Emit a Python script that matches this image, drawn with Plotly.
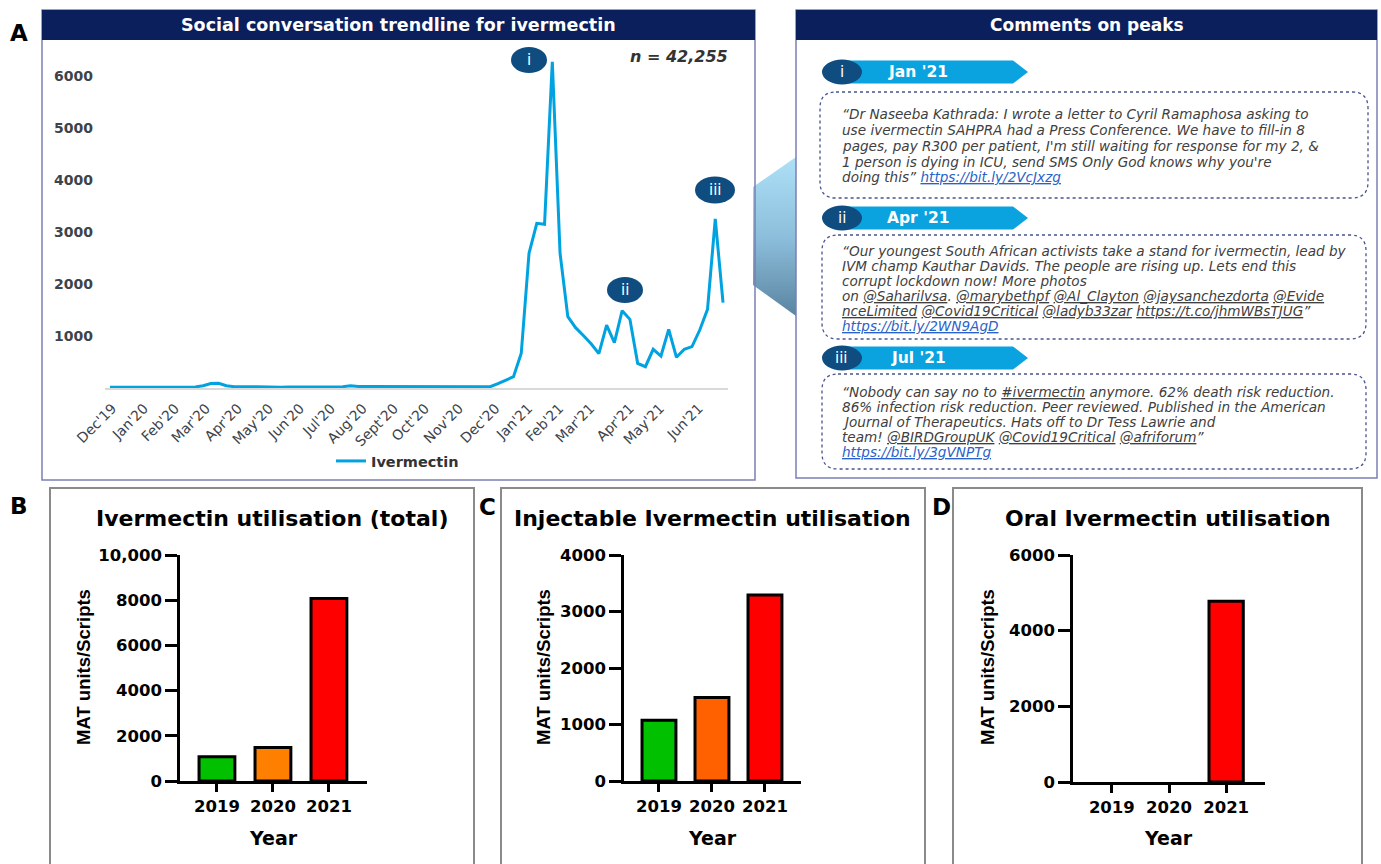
import plotly.graph_objects as go

W, H = 1381, 864

# ---------------- data ----------------
weekly_mentions = [
    15, 15, 15, 15, 15, 15, 15, 15, 15, 15, 15, 20,
    45, 85, 90, 45, 25, 20, 25, 25, 20, 15, 15, 20,
    20, 25, 25, 20, 20, 25, 25, 45, 30, 30, 30, 30,
    30, 25, 20, 20, 20, 20, 20, 20, 20, 20, 25, 20,
    20, 25, 85, 150, 217, 667, 2590, 3167, 3147, 6275,
    2590, 1372, 1160, 1010, 850, 660, 1211, 871, 1487, 1321,
    474, 410, 744, 615, 1128, 590, 744, 795, 1115, 1513, 3250, 1641,
]
week_index = list(range(len(weekly_mentions)))
month_labels = ["Dec'19", "Jan'20", "Feb'20", "Mar'20", "Apr'20", "May'20", "Jun'20",
                "Jul'20", "Aug'20", "Sept'20", "Oct'20", "Nov'20", "Dec'20", "Jan'21",
                "Feb'21", "Mar'21", "Apr'21", "May'21", "Jun'21"]
month_tick_week = [0.3, 4.4, 8.4, 12.4, 16.5, 20.5, 24.5, 28.5, 32.6, 36.6, 40.6,
                   45.0, 49.7, 53.9, 57.9, 61.9, 67.0, 70.9, 75.9]
line_yticks = [1000, 2000, 3000, 4000, 5000, 6000]
total_mentions_label = "n = 42,255"

years = ["2019", "2020", "2021"]
total_util = [1075, 1480, 8070]
injectable_util = [1075, 1480, 3290]
oral_util = [0, 0, 4780]

peak_labels = ["i", "ii", "iii"]
peak_months = ["Jan '21", "Apr '21", "Jul '21"]

LINK = '<span style="color:#2a62c9"><u>{}</u></span>'
U = '<u>{}</u>'
comment_i = [
    "“Dr Naseeba Kathrada: I wrote a letter to Cyril Ramaphosa asking to",
    "use ivermectin SAHPRA had a Press Conference. We have to fill-in 8",
    "pages, pay R300 per patient, I'm still waiting for response for my 2, &amp;",
    "1 person is dying in ICU, send SMS Only God knows why you're",
    "doing this” " + LINK.format("https://bit.ly/2VcJxzg"),
]
comment_ii = [
    "“Our youngest South African activists take a stand for ivermectin, lead by",
    "IVM champ Kauthar Davids. The people are rising up. Lets end this",
    "corrupt lockdown now! More photos",
    "on " + U.format("@Saharilvsa") + ". " + U.format("@marybethpf") + " " + U.format("@Al_Clayton")
    + " " + U.format("@jaysanchezdorta") + " " + U.format("@Evide"),
    U.format("nceLimited") + " " + U.format("@Covid19Critical") + " " + U.format("@ladyb33zar")
    + " " + U.format("https://t.co/jhmWBsTJUG") + "”",
    LINK.format("https://bit.ly/2WN9AgD"),
]
comment_iii = [
    "“Nobody can say no to " + U.format("#ivermectin") + " anymore. 62% death risk reduction.",
    "86% infection risk reduction. Peer reviewed. Published in the American",
    "Journal of Therapeutics. Hats off to Dr Tess Lawrie and",
    "team! " + U.format("@BIRDGroupUK") + " " + U.format("@Covid19Critical") + " " + U.format("@afriforum") + "”",
    LINK.format("https://bit.ly/3gVNPTg"),
]
comments = [comment_i, comment_ii, comment_iii]

# ---------------- helpers (pixel -> paper) ----------------
def X(px):
    return px / W


def Y(py):
    return 1 - py / H


NAVY = "#0b1f5c"
FRAME = "#7b80b3"
DEEP = "#0f4c80"
ARROW = "#0aa3e0"
LINE_BLUE = "#00a3e0"
TXT = "#3d434a"
DJ = "DejaVu Sans"
LIB = "Liberation Sans"

shapes = []
annotations = []


def rect(x0, y0, x1, y1, fill=None, line=None, lw=1.5):
    shapes.append(dict(type="rect", xref="paper", yref="paper", x0=X(x0), x1=X(x1), y0=Y(y1), y1=Y(y0),
                       fillcolor=fill if fill else "rgba(0,0,0,0)",
                       line=dict(color=line if line else "rgba(0,0,0,0)", width=lw if line else 0)))


def ellipse(cx, cy, w, h, fill):
    shapes.append(dict(type="circle", xref="paper", yref="paper", x0=X(cx - w / 2), x1=X(cx + w / 2),
                       y0=Y(cy + h / 2), y1=Y(cy - h / 2), fillcolor=fill, line=dict(width=0)))


def pt(x, y):
    return f"{X(x):.6f},{Y(y):.6f}"


def rounded_rect(x0, y0, x1, y1, r, color, lw=1.3):
    p = (f"M {pt(x0 + r, y0)} L {pt(x1 - r, y0)} Q {pt(x1, y0)} {pt(x1, y0 + r)} "
         f"L {pt(x1, y1 - r)} Q {pt(x1, y1)} {pt(x1 - r, y1)} L {pt(x0 + r, y1)} "
         f"Q {pt(x0, y1)} {pt(x0, y1 - r)} L {pt(x0, y0 + r)} Q {pt(x0, y0)} {pt(x0 + r, y0)} Z")
    shapes.append(dict(type="path", xref="paper", yref="paper", path=p,
                       line=dict(color=color, width=lw, dash="dot"), fillcolor="rgba(0,0,0,0)"))


def banner(cy, x0=843, shoulder=1013, tip=1028, half=11.5):
    p = (f"M {pt(x0, cy - half)} L {pt(shoulder, cy - half)} L {pt(tip, cy)} "
         f"L {pt(shoulder, cy + half)} L {pt(x0, cy + half)} Z")
    shapes.append(dict(type="path", xref="paper", yref="paper", path=p,
                       fillcolor=ARROW, line=dict(width=0)))


def ann(text, x, y, size, color="black", family=DJ, xanchor="center", yanchor="middle",
        angle=0, weight="normal", style="normal"):
    annotations.append(dict(text=text, x=X(x), y=Y(y), xref="paper", yref="paper",
                            xanchor=xanchor, yanchor=yanchor, showarrow=False, textangle=angle,
                            font=dict(family=family, size=size, color=color, weight=weight, style=style)))


# ---------------- panel A frame ----------------
rect(42, 10, 755, 480, line=FRAME)
rect(42, 10, 755, 40, fill=NAVY)
ann("Social conversation trendline for ivermectin", 398, 25, 17.5, "white", weight="bold")
ann("A", 19, 33, 23, "black", weight="bold")
ann(total_mentions_label, 679, 57, 16, "#333333", weight="bold", style="italic")

peak_circles = [(529, 60, 36, 26), (625, 290, 36, 26), (715, 190, 40, 27)]
for (cx, cy, w, h), lab in zip(peak_circles, peak_labels):
    ellipse(cx, cy, w, h, DEEP)
    ann(lab, cx, cy, 15, "white")

# ---------------- comments panel ----------------
rect(796, 10, 1377, 478, line=FRAME)
rect(796, 10, 1377, 40, fill=NAVY)
ann("Comments on peaks", 1087, 25, 17, "white", weight="bold")

banner_y = [72, 218, 358]
bubble_box = [(820, 92, 1368, 198), (822, 235, 1366, 339), (822, 374, 1366, 469)]
line_y = [[114, 130, 146, 162, 177],
          [251, 266, 281, 296, 311, 326],
          [392, 407, 422, 437, 452]]
for k in range(3):
    cy = banner_y[k]
    banner(cy)
    ellipse(842, cy, 40, 25, DEEP)
    ann(peak_labels[k], 842, cy, 15, "white")
    ann(peak_months[k], 918, cy, 15.5, "white", weight="bold")
    bx0, by0, bx1, by1 = bubble_box[k]
    rounded_rect(bx0, by0, bx1, by1, 16, "#46558f")
    for txt, ly in zip(comments[k], line_y[k]):
        ann(txt, 840, ly, 13.6, "#404040", xanchor="left", style="italic")

# ---------------- bottom panels frames/text ----------------
bottom = [
    dict(frame=(50, 474), label=("B", 19, 506), title="Ivermectin utilisation (total)", tx=272,
         ytitle_x=83, year_x=273),
    dict(frame=(501, 925), label=("C", 487, 507), title="Injectable Ivermectin utilisation", tx=712,
         ytitle_x=543, year_x=712),
    dict(frame=(953, 1362), label=("D", 941, 507), title="Oral Ivermectin utilisation", tx=1168,
         ytitle_x=987, year_x=1168),
]
for b in bottom:
    rect(b["frame"][0], 488, b["frame"][1], 880, line="#8a8a8a", lw=2)
    ann(b["label"][0], b["label"][1], b["label"][2], 23, "black", weight="bold")
    ann(b["title"], b["tx"], 518, 22, "black", weight="bold")
    ann("MAT units/Scripts", b["ytitle_x"], 667, 18.5, "black", family=LIB, angle=-90, weight="bold")
    ann("Year", b["year_x"], 838, 19, "black", weight="bold")

# ---------------- traces ----------------
fig = go.Figure()
fig.add_trace(go.Scatter(x=week_index, y=weekly_mentions, mode="lines", name="Ivermectin",
                         line=dict(color=LINE_BLUE, width=3), xaxis="x", yaxis="y",
                         showlegend=True))

bar_sets = [
    (total_util, ["#00c000", "#ff8000", "#ff0000"], "x2", "y2", 0.64),
    (injectable_util, ["#00c000", "#ff6000", "#ff0000"], "x3", "y3", 0.64),
    (oral_util, ["#00c000", "#ff6000", "#ff0000"], "x4", "y4", 0.6),
]
for vals, cols, xa, ya, wd in bar_sets:
    shown = [v if v > 0 else None for v in vals]  # zero-height bars are not outlined
    fig.add_trace(go.Bar(x=[0, 1, 2], y=shown, width=wd, xaxis=xa, yaxis=ya, showlegend=False,
                         marker=dict(color=cols, line=dict(color="black", width=3))))

# connector wedge between panels (decorative, on an overlay pixel axis)
fig.add_trace(go.Scatter(x=[753, 796, 796, 753, 753], y=[187, 157, 316, 285, 187], mode="lines",
                         fill="toself", line=dict(width=0), xaxis="x5", yaxis="y5",
                         showlegend=False, hoverinfo="skip",
                         fillgradient=dict(type="vertical",
                                           colorscale=[[0, "#5a84a1"], [0.5, "#8dbfdc"], [1, "#aee0f7"]])))

# ---------------- axes ----------------
bar_tickfont = dict(family=DJ, size=16.5, color="black", weight="bold")


def bar_x(dom, rng):
    return dict(domain=[X(dom[0]), X(dom[1])], range=rng, tickvals=[0, 1, 2], ticktext=years,
                ticks="outside", ticklen=8, tickwidth=2.5, tickcolor="black", showline=True,
                linecolor="black", linewidth=2.5, showgrid=False, zeroline=False, tickfont=bar_tickfont,
                fixedrange=True)


def bar_y(top, bottom_px, rng, tv, tt):
    return dict(domain=[Y(bottom_px), Y(top)], range=rng, tickvals=tv, ticktext=tt, ticks="outside",
                ticklen=12, tickwidth=2.5, tickcolor="black", showline=True, linecolor="black",
                linewidth=2.5, showgrid=False, zeroline=False, tickfont=bar_tickfont, fixedrange=True)


fig.update_layout(
    width=W, height=H, margin=dict(l=0, r=0, t=0, b=0),
    paper_bgcolor="white", plot_bgcolor="rgba(0,0,0,0)", template="none",
    font=dict(family=DJ),
    shapes=shapes, annotations=annotations,
    showlegend=True,
    legend=dict(x=X(331), y=Y(461), xanchor="left", yanchor="middle", orientation="h",
                bgcolor="rgba(0,0,0,0)", font=dict(family=DJ, size=14.5, color="#333333", weight="bold")),
    xaxis=dict(domain=[X(105), X(728)], range=[-0.64, 79.64], tickvals=month_tick_week,
               ticktext=month_labels, tickangle=-45, showline=True, linecolor="#d9d9d9", linewidth=1.5,
               showgrid=False, zeroline=False, ticks="", anchor="y", ticklabelstandoff=5,
               tickfont=dict(family=DJ, size=14, color=TXT), fixedrange=True),
    yaxis=dict(domain=[Y(388), Y(50)], range=[0, 6500], tickvals=line_yticks, showgrid=False,
               zeroline=False, showline=False, ticks="", anchor="x", ticklabelstandoff=11,
               tickfont=dict(family=DJ, size=14, color=TXT, weight="bold"), fixedrange=True),
    xaxis2=dict(anchor="y2", **bar_x((180, 367), [-0.66, 2.68])),
    yaxis2=dict(anchor="x2", **bar_y(555, 781, [0, 10000], [0, 2000, 4000, 6000, 8000, 10000],
                                      ["0", "2000", "4000", "6000", "8000", "10,000"])),
    xaxis3=dict(anchor="y3", **bar_x((624, 801), [-0.66, 2.68])),
    yaxis3=dict(anchor="x3", **bar_y(555, 781, [0, 4000], [0, 1000, 2000, 3000, 4000],
                                      ["0", "1000", "2000", "3000", "4000"])),
    xaxis4=dict(anchor="y4", **bar_x((1073, 1265), [-0.68, 2.68])),
    yaxis4=dict(anchor="x4", **bar_y(555, 782, [0, 6000], [0, 2000, 4000, 6000],
                                      ["0", "2000", "4000", "6000"])),
    xaxis5=dict(domain=[0, 1], range=[0, W], visible=False, fixedrange=True, anchor="y5"),
    yaxis5=dict(domain=[0, 1], range=[H, 0], visible=False, fixedrange=True, anchor="x5"),
)

fig.write_html("out.html", config={"displayModeBar": False},
               post_script="document.body.style.margin='0';document.body.style.overflow='hidden';")
